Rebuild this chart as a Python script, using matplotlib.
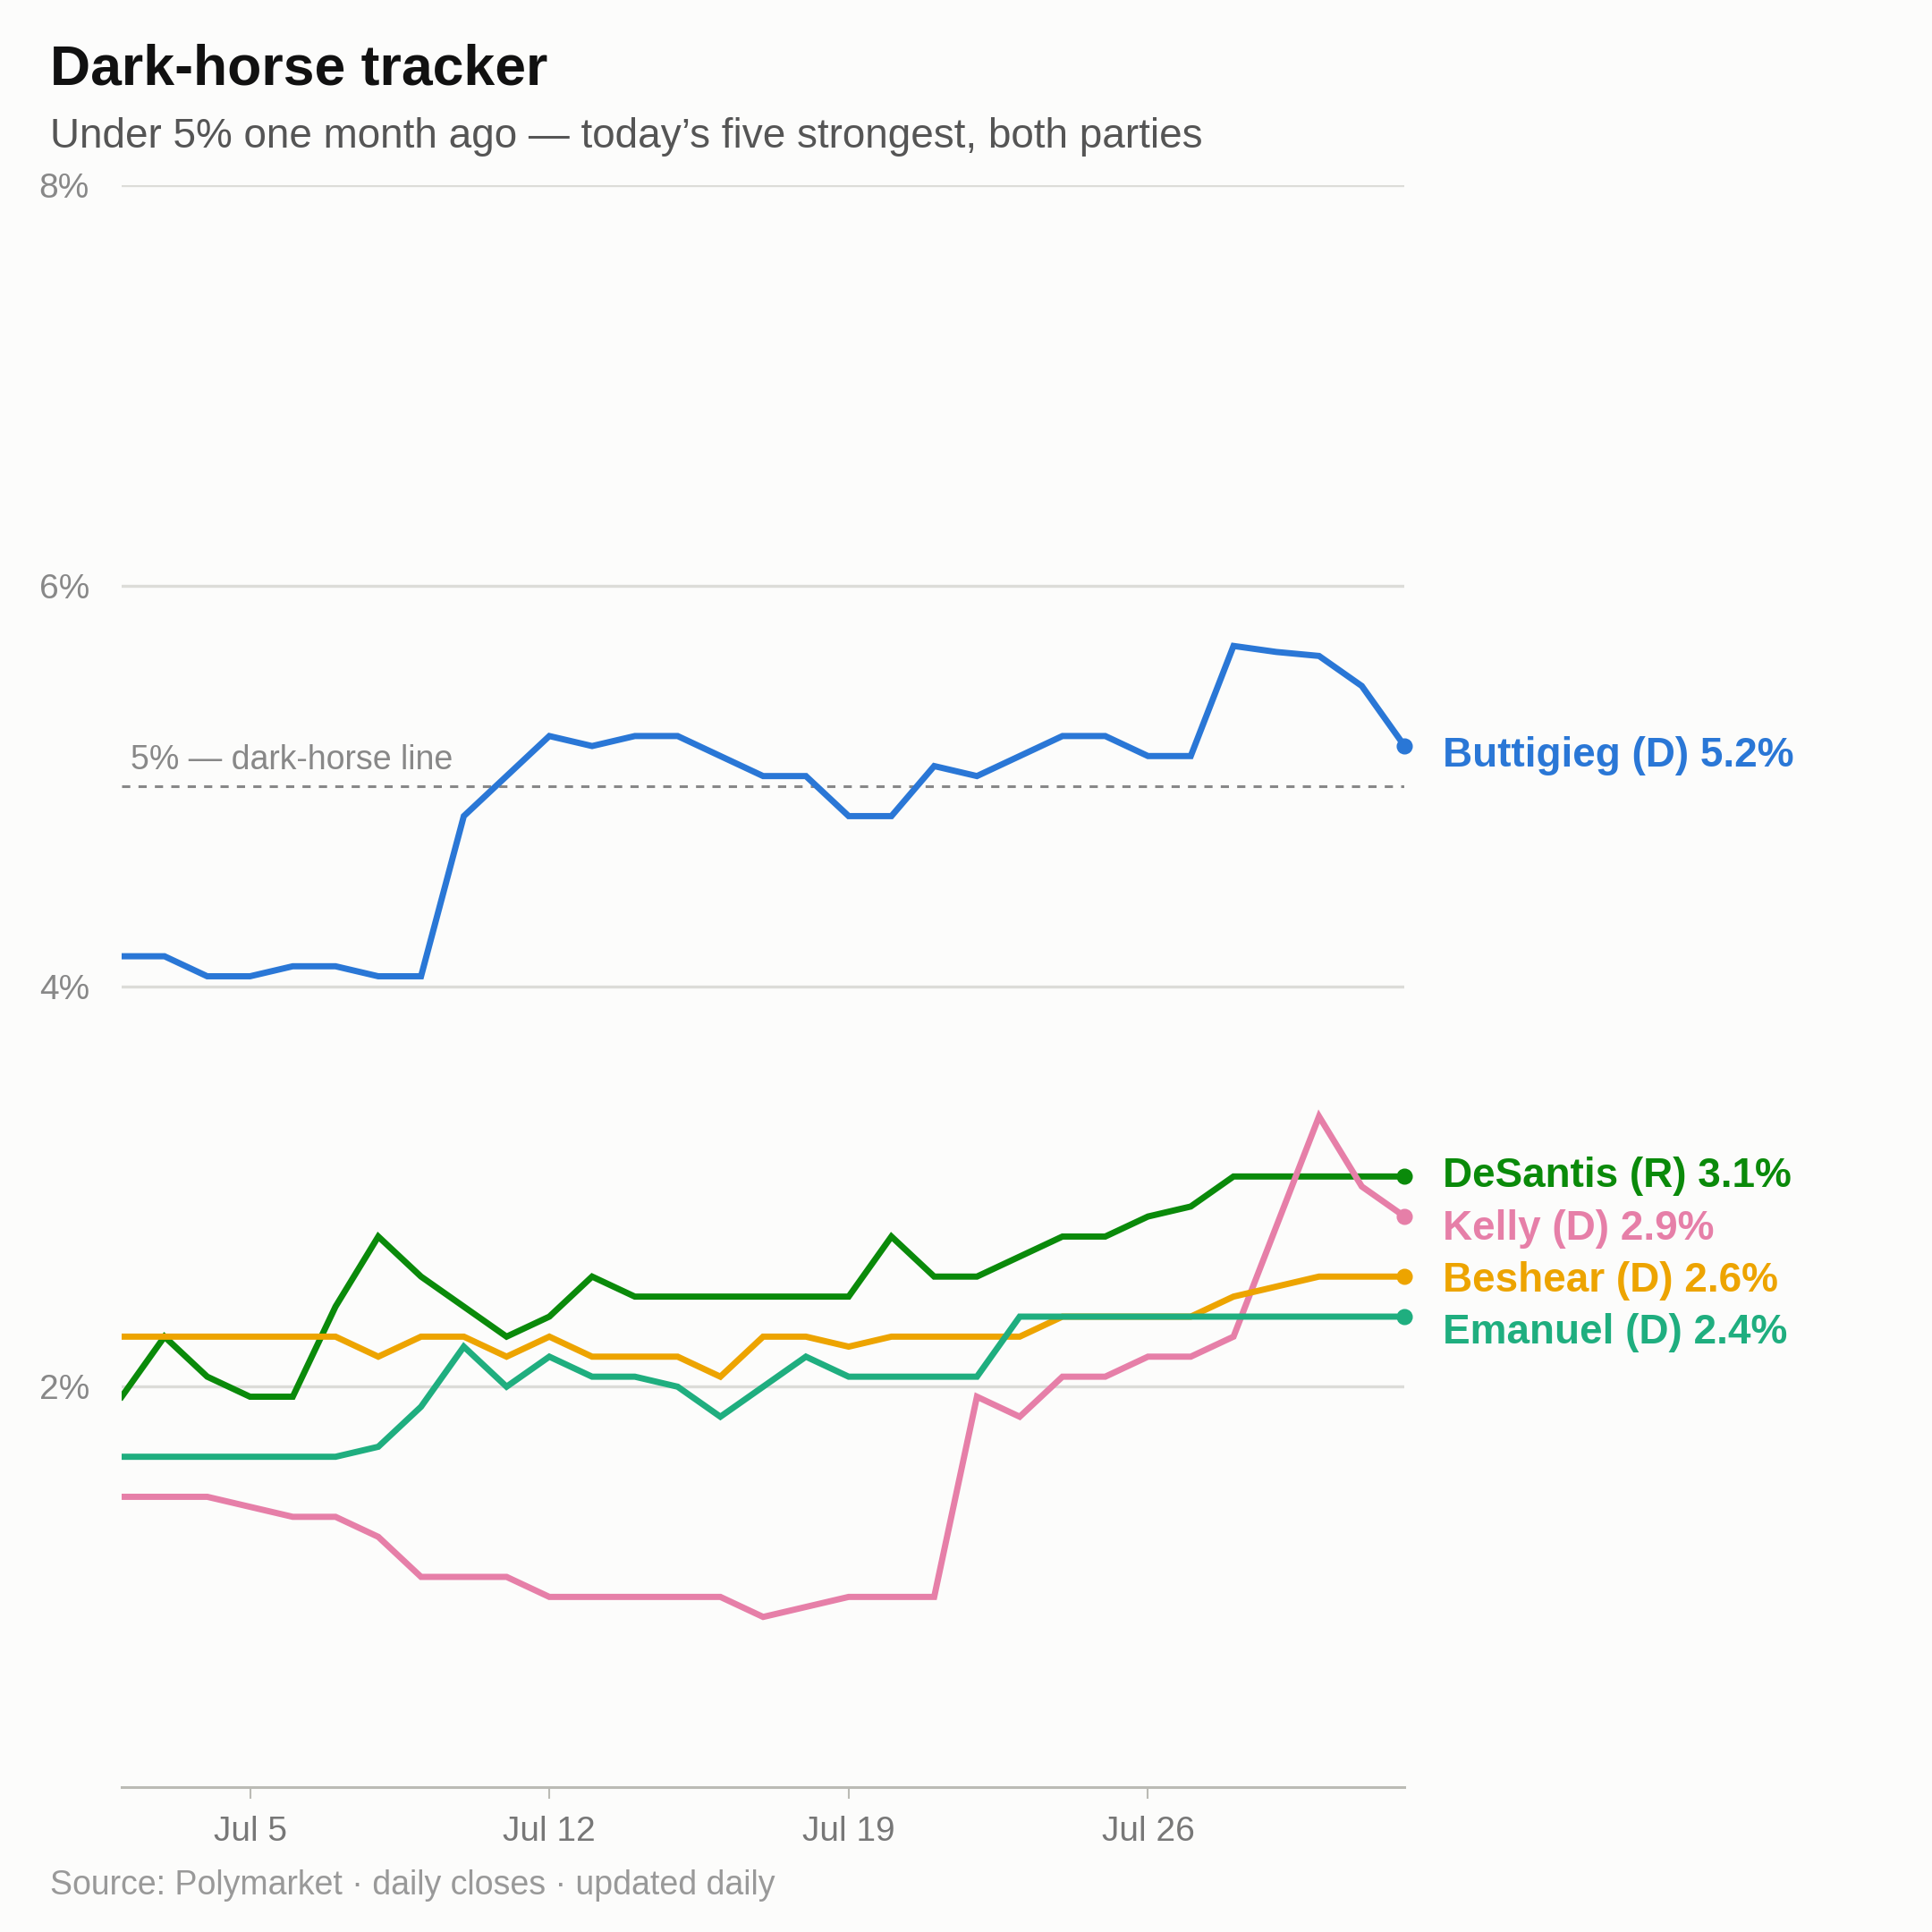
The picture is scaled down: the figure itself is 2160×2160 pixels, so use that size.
import matplotlib.pyplot as plt
import numpy as np

plt.rcParams['font.family'] = ['Liberation Sans', 'DejaVu Sans']

days = np.arange(2, 33)  # Jul 2 .. Aug 1
names = ["Buttigieg (D)", "DeSantis (R)", "Kelly (D)", "Beshear (D)", "Emanuel (D)"]
colors = ["#2a77d6", "#0a8a0a", "#e67fa8", "#eda400", "#1fae7f"]
buttigieg = [4.15, 4.15, 4.05, 4.05, 4.1, 4.1, 4.05, 4.05, 4.85, 5.05, 5.25, 5.2, 5.25, 5.25, 5.15, 5.05,
             5.05, 4.85, 4.85, 5.1, 5.05, 5.15, 5.25, 5.25, 5.15, 5.15, 5.7, 5.67, 5.65, 5.5, 5.2]
desantis = [1.95, 2.25, 2.05, 1.95, 1.95, 2.4, 2.75, 2.55, 2.4, 2.25, 2.35, 2.55, 2.45, 2.45, 2.45, 2.45,
            2.45, 2.45, 2.75, 2.55, 2.55, 2.65, 2.75, 2.75, 2.85, 2.9, 3.05, 3.05, 3.05, 3.05, 3.05]
kelly = [1.45, 1.45, 1.45, 1.4, 1.35, 1.35, 1.25, 1.05, 1.05, 1.05, 0.95, 0.95, 0.95, 0.95, 0.95, 0.85,
         0.9, 0.95, 0.95, 0.95, 1.95, 1.85, 2.05, 2.05, 2.15, 2.15, 2.25, 2.8, 3.35, 3.0, 2.85]
beshear = [2.25, 2.25, 2.25, 2.25, 2.25, 2.25, 2.15, 2.25, 2.25, 2.15, 2.25, 2.15, 2.15, 2.15, 2.05, 2.25,
           2.25, 2.2, 2.25, 2.25, 2.25, 2.25, 2.35, 2.35, 2.35, 2.35, 2.45, 2.5, 2.55, 2.55, 2.55]
emanuel = [1.65, 1.65, 1.65, 1.65, 1.65, 1.65, 1.7, 1.9, 2.2, 2.0, 2.15, 2.05, 2.05, 2.0, 1.85, 2.0,
           2.15, 2.05, 2.05, 2.05, 2.05, 2.35, 2.35, 2.35, 2.35, 2.35, 2.35, 2.35, 2.35, 2.35, 2.35]
series = [buttigieg, desantis, kelly, beshear, emanuel]
label_vals = ["5.2%", "3.1%", "2.9%", "2.6%", "2.4%"]
label_y = [5.15, 3.05, 2.79, 2.53, 2.27]

bg = "#fcfcfb"
fig = plt.figure(figsize=(21.6, 21.6), dpi=100, facecolor=bg)
ax = fig.add_axes([0.063, 0.075, 0.664, 0.829], facecolor=bg)

for y in [2, 4, 6, 8]:
    ax.axhline(y, color="#dcdcd8", lw=2.4, zorder=1)
ax.axhline(5, color="#888888", lw=2.2, ls=(0, (3, 3)), zorder=1)
ax.text(2.2, 5.05, "5% — dark-horse line", fontsize=27, color="#888888", va="bottom")

for vals, c, nm, lv, ly in zip(series, colors, names, label_vals, label_y):
    ax.plot(days, vals, color=c, lw=5, zorder=3, solid_joinstyle="miter")
    ax.plot(days[-1], vals[-1], "o", color=c, ms=12, zorder=4, clip_on=False)
    ax.text(days[-1] + 0.9, ly, f"{nm} {lv}", color=c, fontsize=33, fontweight="bold",
            va="center", clip_on=False)

ax.set_xlim(2, 32)
ax.set_ylim(0, 8)
ax.set_yticks([2, 4, 6, 8])
ax.set_yticklabels(["2%", "4%", "6%", "8%"])
ax.set_xticks([5, 12, 19, 26])
ax.set_xticklabels(["Jul 5", "Jul 12", "Jul 19", "Jul 26"])
ax.tick_params(axis="y", length=0, labelsize=28, labelcolor="#888888", pad=26)
ax.tick_params(axis="x", length=9, width=1.5, color="#bbbbb5", labelsize=28,
               labelcolor="#777777", pad=14)
for s in ["top", "right", "left"]:
    ax.spines[s].set_visible(False)
ax.spines["bottom"].set_color("#bbbbb5")
ax.spines["bottom"].set_linewidth(2.2)

fig.text(0.026, 0.964, "Dark-horse tracker", fontsize=45, fontweight="bold", color="#111111", va="center")
fig.text(0.026, 0.929, "Under 5% one month ago — today’s five strongest, both parties",
         fontsize=33, color="#555555", va="center")
fig.text(0.026, 0.024, "Source: Polymarket · daily closes · updated daily", fontsize=27,
         color="#999999", va="center")

fig.savefig("out.png", dpi=100, facecolor=bg)
